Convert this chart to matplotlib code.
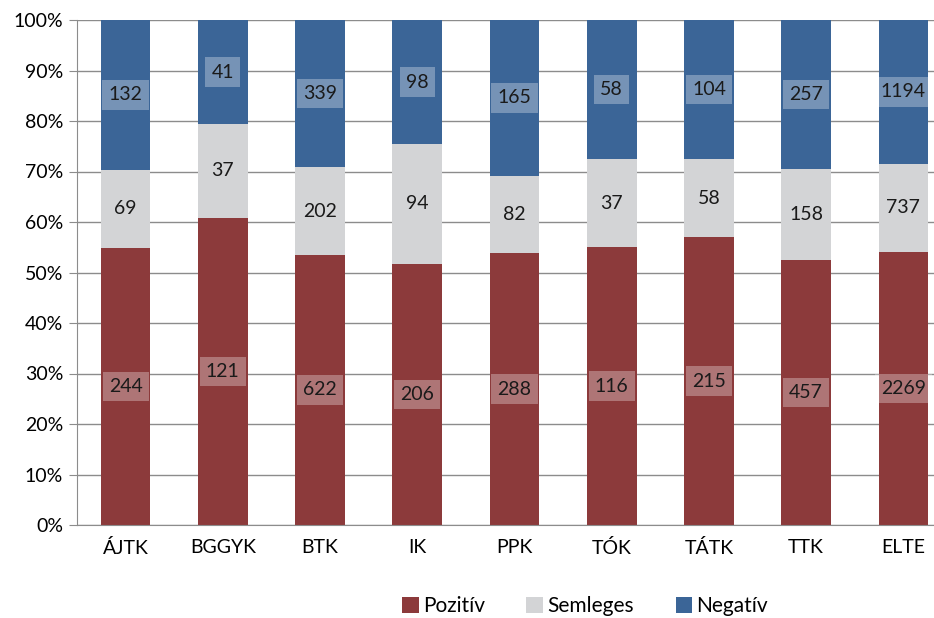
import matplotlib.pyplot as plt
import numpy as np
from matplotlib.ticker import PercentFormatter

plt.rcParams["font.family"] = ["Lato", "DejaVu Sans"]

categories = ["ÁJTK", "BGGYK", "BTK", "IK", "PPK", "TÓK", "TÁTK", "TTK", "ELTE"]
pozitiv = [244, 121, 622, 206, 288, 116, 215, 457, 2269]
semleges = [69, 37, 202, 94, 82, 37, 58, 158, 737]
negativ = [132, 41, 339, 98, 165, 58, 104, 257, 1194]

colors = {"Pozitív": "#8C3A3B", "Semleges": "#D3D4D6", "Negatív": "#3B6597"}

counts = np.array([pozitiv, semleges, negativ], dtype=float)
shares = counts / counts.sum(axis=0) * 100

fig = plt.figure(figsize=(9.34, 6.18), dpi=100)
ax = fig.add_axes([77 / 934, 93 / 618, 875 / 934, 505 / 618])

x = np.arange(len(categories))
bottom = np.zeros(len(categories))
handles = []
for (name, col), share, cnt in zip(colors.items(), shares, counts):
    bars = ax.bar(x, share, 0.51, bottom=bottom, color=col, zorder=2, label=name)
    handles.append(bars)
    for xi, b, s, c in zip(x, bottom, share, cnt):
        box = None
        if name != "Semleges":
            box = dict(boxstyle="square,pad=0.32", fc="white", ec="none", alpha=0.3)
        ax.text(xi, b + s / 2, f"{int(c)}", ha="center", va="center",
                fontsize=14, color="#1a1a1a", bbox=box, zorder=3)
    bottom += share

ax.set_xlim(-0.5, len(categories) - 0.5)
ax.set_ylim(0, 100)
ax.set_yticks(np.arange(0, 101, 10))
ax.yaxis.set_major_formatter(PercentFormatter(decimals=0))
ax.set_xticks(x)
ax.set_xticklabels(categories)
ax.grid(axis="y", color="#8c8c8c", linewidth=1, zorder=0)
ax.set_axisbelow(True)
for side in ["top", "right"]:
    ax.spines[side].set_visible(False)
for side in ["left", "bottom"]:
    ax.spines[side].set_color("#8c8c8c")
ax.tick_params(axis="y", length=6, color="#8c8c8c", labelsize=14, pad=4)
ax.tick_params(axis="x", length=0, labelsize=14, pad=10)

fig.legend(handles, list(colors.keys()), loc="center", ncol=3,
           bbox_to_anchor=(585 / 934, 1 - 606 / 618), frameon=False,
           fontsize=15, handlelength=0.8, handleheight=0.8, handletextpad=0.2,
           columnspacing=2.0)

fig.savefig("out.png", dpi=100)
